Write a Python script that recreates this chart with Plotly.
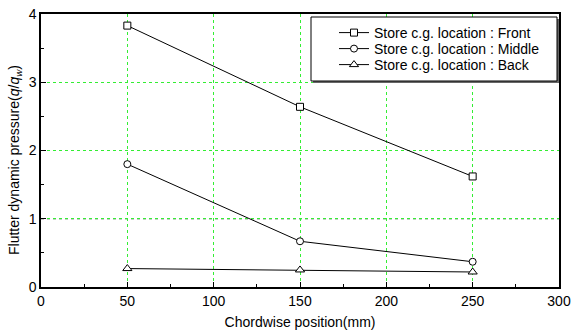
import plotly.graph_objects as go

chordwise_mm = [50, 150, 250]
front = [3.83, 2.64, 1.62]
middle = [1.80, 0.67, 0.37]
back = [0.27, 0.25, 0.22]
series_names = ["Store c.g. location : Front",
                "Store c.g. location : Middle",
                "Store c.g. location : Back"]
x_ticks = [0, 50, 100, 150, 200, 250, 300]
y_ticks = [0, 1, 2, 3, 4]
y_title = "Flutter dynamic pressure(<i>q</i>/<i>q</i><sub><i>w</i></sub>)"
x_title = "Chordwise position(mm)"

FONT = "Liberation Sans, Arial, sans-serif"

# plot area in pixels (for placing the legend frame)
W, H = 572, 333
ML, MR, MT, MB = 41, 13, 14, 46
PW, PH = W - ML - MR, H - MT - MB


def px_x(p):
    return (p - ML) / PW


def px_y(p):
    return (H - MB - p) / PH


legend_names = ["legend", "legend2", "legend3"]
row_centers = [33, 49, 65]

fig = go.Figure()
for name, vals, sym, size, lg in zip(series_names, [front, middle, back],
                                     ["square", "circle", "triangle-up"],
                                     [7, 7, 8], legend_names):
    fig.add_trace(go.Scatter(
        x=chordwise_mm, y=vals, name=name, mode="lines+markers",
        line=dict(color="black", width=1),
        marker=dict(symbol=sym, size=size, color="white", line=dict(width=1, color="black")),
        legend=lg,
    ))

# reference line at y = 1
fig.add_shape(type="line", xref="paper", yref="y", x0=0, x1=1, y0=1, y1=1,
              line=dict(color="#1a3a1a", width=1, dash="dot"), layer="between")

# legend frame with shadow
fig.add_shape(type="rect", xref="paper", yref="paper",
              x0=px_x(313), x1=px_x(559), y0=px_y(83), y1=px_y(19),
              fillcolor="#666666", line=dict(width=0), layer="above")
fig.add_shape(type="rect", xref="paper", yref="paper",
              x0=px_x(311), x1=px_x(557), y0=px_y(81), y1=px_y(17),
              fillcolor="white", line=dict(color="black", width=1), layer="above")

# y-axis title (placed as annotation to match vertical position)
fig.add_annotation(text=y_title, textangle=-90, xref="paper", yref="paper",
                   x=px_x(15), y=px_y(160), xanchor="center", yanchor="middle",
                   showarrow=False, font=dict(family=FONT, size=14, color="black"))

legend_common = dict(xanchor="left", yanchor="middle", bgcolor="rgba(0,0,0,0)",
                     borderwidth=0, font=dict(family=FONT, size=14), itemwidth=30)
layout_legends = {}
for lg, yc in zip(legend_names, row_centers):
    layout_legends[lg] = dict(x=px_x(334), y=px_y(yc), **legend_common)

fig.update_layout(
    width=W, height=H,
    margin=dict(l=ML, r=MR, t=MT, b=MB),
    paper_bgcolor="white", plot_bgcolor="white",
    font=dict(family=FONT, color="black", size=13),
    showlegend=True,
    xaxis=dict(range=[0, 300], tickvals=x_ticks, ticks="inside", ticklen=5,
               tickcolor="black", showline=True, linecolor="black", linewidth=1.5,
               mirror=True, zeroline=False, automargin=False,
               showgrid=True, gridcolor="#33ee33", griddash="dot", gridwidth=1,
               tickfont=dict(size=14),
               minor=dict(dtick=25, ticks="inside", ticklen=3, tickcolor="black", showgrid=False),
               title=dict(text=x_title, font=dict(size=14), standoff=10)),
    yaxis=dict(range=[0, 4], tickvals=y_ticks, ticks="inside", ticklen=5,
               tickcolor="black", showline=True, linecolor="black", linewidth=1.5,
               mirror=True, zeroline=False, automargin=False,
               showgrid=True, gridcolor="#33ee33", griddash="dot", gridwidth=1,
               tickfont=dict(size=14),
               minor=dict(dtick=0.5, ticks="inside", ticklen=3, tickcolor="black", showgrid=False)),
    **layout_legends,
)

fig.write_html("out.html")
